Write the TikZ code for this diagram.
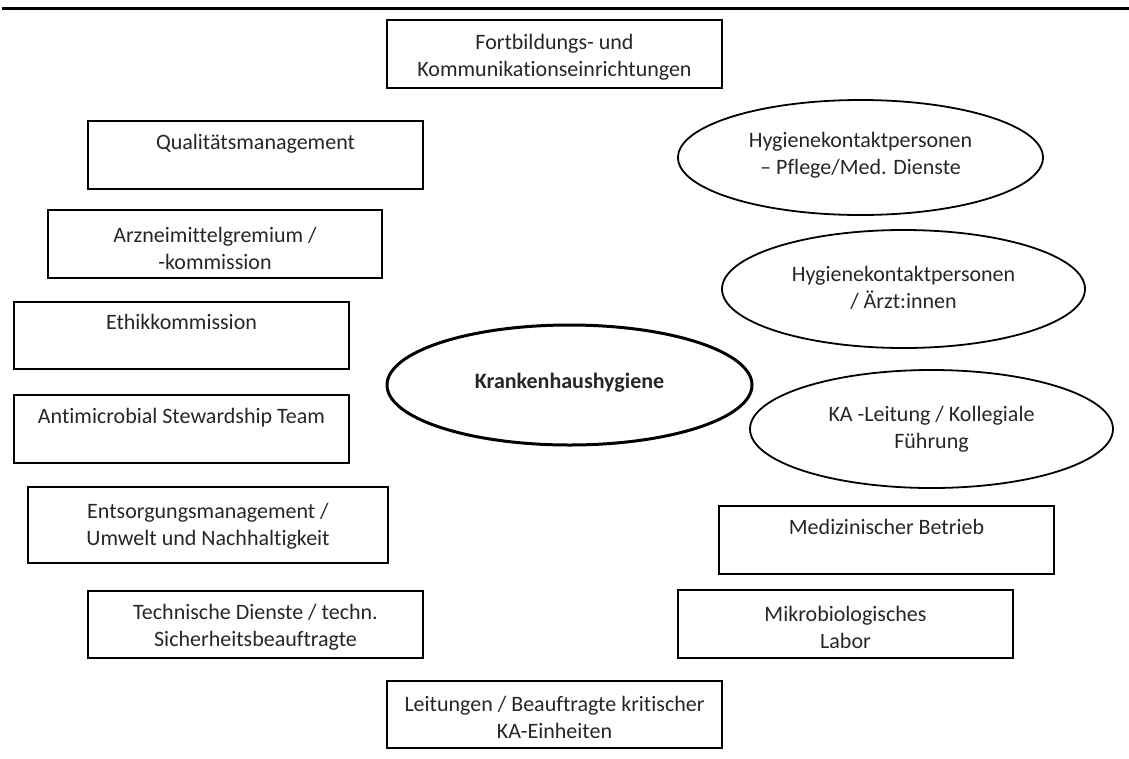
\documentclass[tikz,border=0pt]{standalone}
\usepackage{fontspec}
\setmainfont{Carlito}[Ligatures=NoCommon]
\usetikzlibrary{shapes.geometric}
\tikzset{
  txt/.style={font=\fontsize{22}{27}\selectfont, text=black!85, align=center, inner sep=0pt},
  boxnode/.style={draw=black, line width=2pt, rectangle, inner sep=0pt, minimum width=335pt, minimum height=68pt},
  ellnode/.style={draw=black, line width=1.8pt, ellipse, inner sep=0pt, minimum width=363pt, minimum height=118pt},
  mainell/.style={draw=black, line width=3pt, ellipse, inner sep=0pt, minimum width=365pt, minimum height=120pt}
}
\begin{document}
\begin{tikzpicture}[x=1pt, y=-1pt]
\useasboundingbox (0,0) rectangle (1129,758);
\coordinate (ruleL) at (2,8);
\coordinate (ruleR) at (1129,8);
\draw[line width=3pt] (ruleL) -- (ruleR);

% boxes
\node[boxnode] (fort) at (554.5,54) {};
\node[boxnode] (qual) at (255.5,155) {};
\node[boxnode, minimum width=334pt] (arz) at (215,244) {};
\node[boxnode, minimum height=67pt] (ethik) at (181.5,335.5) {};
\node[boxnode] (ams) at (181.5,429) {};
\node[boxnode, minimum width=360pt, minimum height=76pt] (ents) at (208,525) {};
\node[boxnode, minimum height=67pt] (tech) at (255.5,624.5) {};
\node[boxnode, minimum height=67pt] (leit) at (554.5,714.5) {};
\node[boxnode] (med) at (886.5,540) {};
\node[boxnode] (mikro) at (845.5,624) {};

% box texts
\node[txt] (fortT) at ([yshift=-3pt]fort.center) {Fortbildungs- und\\Kommunikationseinrichtungen};
\node[txt] (qualT) at ([yshift=-4pt]qual.center) {Qualitätsmanagement\\\strut};
\node[txt] (arzT) at ([yshift=-4pt]arz.center) {Arzneimittelgremium /\\-kommission};
\node[txt] (ethikT) at ([yshift=-4pt]ethik.center) {Ethikkommission\\\strut};
\node[txt] (amsT) at ([yshift=-4pt]ams.center) {Antimicrobial Stewardship Team\\\strut};
\node[txt] (entsT) at ([yshift=-1pt]ents.center) {Entsorgungsmanagement /\\Umwelt und Nachhaltigkeit};
\node[txt] (techT) at ([yshift=-3pt]tech.center) {Technische Dienste / techn.\\Sicherheitsbeauftragte};
\node[txt] (leitT) at ([yshift=-3pt]leit.center) {Leitungen / Beauftragte kritischer\\KA-Einheiten};
\node[txt] (medT) at ([yshift=-4pt]med.center) {Medizinischer Betrieb\\\strut};
\node[txt] (mikroT) at ([yshift=-3pt]mikro.center) {Mikrobiologisches\\Labor};

% ellipses
\node[mainell] (kh) at (569.5,385) {};
\node[ellnode, minimum width=365pt, minimum height=115pt] (hkp) at (860.5,157.5) {};
\node[ellnode] (hka) at (903.5,289) {};
\node[ellnode] (kal) at (931.5,429) {};

\node[txt, font=\fontsize{22}{27}\selectfont\bfseries] (khT) at ([yshift=2pt]kh.center) {Krankenhaushygiene};
\node[txt] (hkpT) at ([yshift=2pt]hkp.center) {Hygienekontaktpersonen\\– Pflege/Med. Dienste};
\node[txt] (hkaT) at ([yshift=1pt]hka.center) {Hygienekontaktpersonen\\/ Ärzt:innen};
\node[txt] (kalT) at (kal.center) {KA -Leitung / Kollegiale\\Führung};
\end{tikzpicture}
\end{document}
